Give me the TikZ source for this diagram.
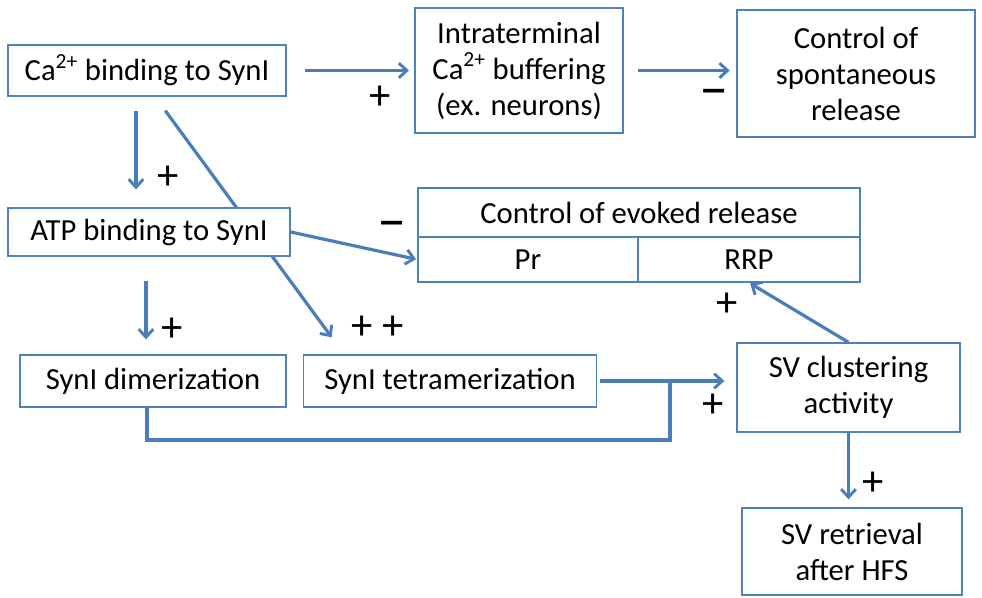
\documentclass[tikz,border=0pt]{standalone}
\usepackage{fontspec}
\setmainfont{Carlito}
\usepackage{tikz}
\usetikzlibrary{arrows.meta,backgrounds,calc,positioning}
\definecolor{boxline}{RGB}{79,129,189}
\definecolor{arrline}{RGB}{74,126,187}

\begin{document}
\begin{tikzpicture}[x=0.75pt,y=-0.75pt,
  box/.style={draw=boxline,line width=1pt,fill=white,align=center,inner sep=0pt,
    font=\fontsize{23}{27}\selectfont},
  arr/.style={draw=arrline,line width=2.4pt,-{Straight Barb[length=6pt,width=11pt,line width=2.2pt]}},
  link/.style={draw=arrline,line width=2.4pt},
  sign/.style={font=\fontsize{32}{32}\selectfont,inner sep=0pt},
  minus/.style={font=\fontsize{44}{44}\selectfont,inner sep=0pt}]
\useasboundingbox (0,0) rectangle (982,598);
\node[box,minimum width=208.5pt,minimum height=38.25pt] (ca) at (147,70.5) {Ca\textsuperscript{2+} binding to SynI};
\node[box,minimum width=156pt,minimum height=93.75pt] (buf) at (519,70.5) {Intraterminal\\Ca\textsuperscript{2+} buffering\\(ex. neurons)};
\node[box,minimum width=178.5pt,minimum height=95.25pt] (spont) at (856,73.5) {Control of\\spontaneous\\release};
\node[box,minimum width=211.5pt,minimum height=36pt] (atp) at (149,232) {ATP binding to SynI};
\node[box,minimum width=331.5pt,minimum height=36.75pt] (evoked) at (639,212.5) {Control of evoked release};
\node[box,minimum width=165pt,minimum height=33.75pt] (pr) at (528,259.5) {Pr};
\node[box,minimum width=166.5pt,minimum height=33.75pt] (rrp) at (749,259.5) {RRP};
\node[box,minimum width=199.5pt,minimum height=39pt] (dim) at (153,381) {SynI dimerization};
\node[box,minimum width=219.75pt,minimum height=39pt] (tet) at (450,381) {SynI tetramerization};
\node[box,minimum width=167.25pt,minimum height=66.75pt] (clus) at (848.5,387.5) {SV clustering\\activity};
\node[box,minimum width=165pt,minimum height=65.25pt] (retr) at (852,551.5) {SV retrieval\\after HFS};
\coordinate (join) at (670,381);
\coordinate (elbow) at (670,440);
% arrows
\draw[arr,shorten <=14pt,shorten >=4pt] (ca.east) -- (buf.west);
\draw[arr,shorten <=11pt,shorten >=5pt] (buf.east) -- (buf.east -| spont.west);
\draw[arr,shorten <=11pt,shorten >=13.5pt] ([xshift=-8.25pt]ca.south) -- ([xshift=-8.25pt]ca.south |- atp.north);
\begin{scope}[on background layer]
\draw[arr,shorten <=13pt,shorten >=15.8pt] ([xshift=6pt]ca.south) -- ([xshift=31pt]tet.north west);
\end{scope}
\draw[arr,shorten >=1pt] (atp.east) -- (pr.west);
\draw[arr,shorten <=18pt,shorten >=11.25pt] ([xshift=-2.25pt]atp.south) -- ([xshift=-2.25pt]atp.south |- dim.north);
\draw[arr,shorten <=2pt,shorten >=9pt] (tet.east) -- (tet.east -| clus.west);
\draw[link] ([xshift=-4.5pt]dim.south) |- (elbow) -- (join);
\draw[arr,shorten >=1pt] (clus.north) -- (rrp.south);
\draw[arr,shorten >=6pt] (clus.south) -- (clus.south |- retr.north);
% signs
\node[sign] (s1) at (380,98) {+};
\node[minus] (s2) at (714,98) {\textendash};
\node[sign] (s3) at (168,178) {+};
\node[minus] (s4) at (392,230) {\textendash};
\node[sign] (s5) at (172,330) {+};
\node[sign] (s6) at (378,328) {+ +};
\node[sign] (s7) at (727,305) {+};
\node[sign] (s8) at (713,406) {+};
\node[sign] (s9) at (873,484) {+};
\end{tikzpicture}
\end{document}
